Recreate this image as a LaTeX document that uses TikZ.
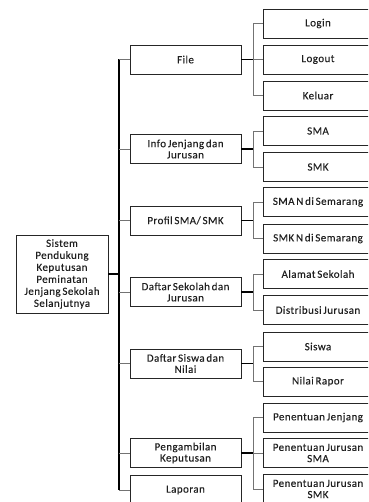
\documentclass[tikz,border=0pt]{standalone}
\usepackage{fontspec}
\setmainfont{Carlito}[LetterSpace=4, WordSpace=0.6, FakeBold=0.2]
\begin{document}
\begin{tikzpicture}[x=1pt,y=-1pt,
  box/.style={draw=black!85, line width=0.8pt, align=center, inner sep=1pt,
    font=\fontsize{11}{11.2}\selectfont, text=black!88},
  lone/.style={box, minimum width=111pt, minimum height=29pt},
  ltwo/.style={box, minimum width=110pt, minimum height=29pt},
  main/.style={black, line width=1.3pt},
  stub/.style={black!55, line width=0.9pt}]
\clip (0,0) rectangle (368,502);
\useasboundingbox (0,0) rectangle (368,502);

% root
\node[box, minimum width=92pt, minimum height=78pt, font=\fontsize{11}{12}\selectfont]
  (root) at (62,274) {Sistem\\Pendukung\\Keputusan\\Peminatan\\Jenjang Sekolah\\Selanjutnya};

% first level menus
\node[lone] (file) at (185.5,59.5) {File};
\node[lone] (info) at (185.5,149) {Info Jenjang dan\\Jurusan};
\node[lone] (prof) at (185.5,220.5) {Profil SMA/ SMK};
\node[lone] (dsek) at (185.5,292) {Daftar Sekolah dan\\Jurusan};
\node[lone] (dsis) at (185.5,363.5) {Daftar Siswa dan\\Nilai};
\node[lone] (ambil) at (185.5,453) {Pengambilan\\Keputusan};
\node[lone, minimum height=30pt] (lap) at (185.5,490) {Laporan};

% second level menus
\node[ltwo] (login) at (318,23.5) {Login};
\node[ltwo] (logout) at (318,59.5) {Logout};
\node[ltwo] (keluar) at (318,95.5) {Keluar};
\node[ltwo] (sma) at (318,131) {SMA};
\node[ltwo] (smk) at (318,167) {SMK};
\node[ltwo] (sman) at (318,202) {SMA N di Semarang};
\node[ltwo] (smkn) at (318,238.5) {SMK N di Semarang};
\node[ltwo] (alamat) at (318,274) {Alamat Sekolah};
\node[ltwo] (distr) at (318,310) {Distribusi Jurusan};
\node[ltwo] (siswa) at (318,346.5) {Siswa};
\node[ltwo] (nilai) at (318,381.5) {Nilai Rapor};
\node[ltwo] (pjen) at (318,417.5) {Penentuan Jenjang};
\node[ltwo] (pjsma) at (318,453) {Penentuan Jurusan\\SMA};
\node[ltwo] (pjsmk) at (318,489) {Penentuan Jurusan\\SMK};

% trunk and bracket columns
\coordinate (tr) at (119,0);
\coordinate (br) at (253,0);

\draw[main] (root.east) -- (root.east -| tr);
\draw[main] (file.west -| tr) -- (lap.west -| tr);
\foreach \n in {file,info,prof,dsek,dsis,ambil,lap}
  \draw[stub] (\n.west) -- (\n.west -| tr);

\foreach \p/\a/\b in {file/login/keluar, info/sma/smk, prof/sman/smkn,
    dsek/alamat/distr, dsis/siswa/nilai, ambil/pjen/pjsmk} {
  \draw[main] (\p.east) -- (\p.east -| br);
  \draw[stub] (\a.west) -- (\a.west -| br) -- (\b.west -| br) -- (\b.west);
}
\foreach \m in {logout, pjsma}
  \draw[stub] (\m.west) -- (\m.west -| br);
\end{tikzpicture}
\end{document}
